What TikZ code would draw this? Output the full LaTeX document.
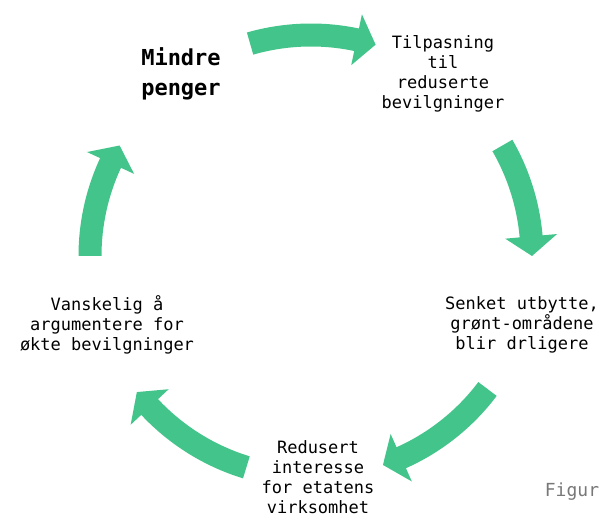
\documentclass[tikz,border=0pt]{standalone}
\usepackage{fontspec}
\setmonofont{DejaVu Sans Mono}
\definecolor{cyclegreen}{RGB}{67,196,138}
\definecolor{captiongray}{RGB}{120,120,120}
\tikzset{
    steptext/.style={
        font=\ttfamily\fontsize{17}{20}\selectfont,
        align=center,
        inner sep=0pt,
    },
    headtext/.style={
        font=\ttfamily\bfseries\fontsize{22}{30}\selectfont,
        align=center,
        inner sep=0pt,
    },
}
\begin{document}
\begin{tikzpicture}[x=1pt,y=1pt]
    \useasboundingbox (0,0) rectangle (603,515);
    \coordinate (C) at (311,259);
    \node[headtext] (mindre) at (181,441) {Mindre\\penger};
    \node[steptext] (tilpasning) at (443,441) {Tilpasning\\til\\reduserte\\bevilgninger};
    \node[steptext] (senket) at (522,190) {Senket utbytte,\\grønt-områdene\\blir drligere};
    \node[steptext] (redusert) at (318,38) {Redusert\\interesse\\for etatens\\virksomhet};
    \node[steptext] (vanskelig) at (107,190) {Vanskelig å\\argumentere for\\økte bevilgninger};
    \node[steptext, text=captiongray, font=\ttfamily\fontsize{18}{20}\selectfont] (figur) at (572,23) {Figur};
    \foreach \a/\b in {106/73, 30/0, -37/-71, -107/-142, 180/150}{
        \pgfmathsetmacro\c{\b+5.1}
        \fill[
            cyclegreen,
            shift={(C)},
        ]
            (\a:232.5pt) arc[start angle=\a, end angle=\c, radius=232.5pt]
            -- (\c:247pt) -- (\b:221pt) -- (\c:195pt)
            -- (\c:209.5pt) arc[start angle=\c, end angle=\a, radius=209.5pt]
            -- cycle;
    }
\end{tikzpicture}
\end{document}
